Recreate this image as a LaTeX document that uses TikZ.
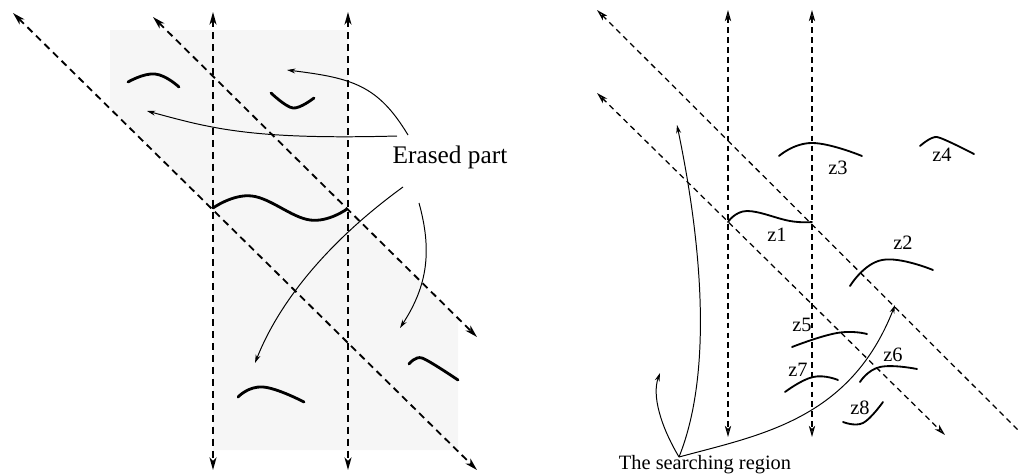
\documentclass[tikz,border=0pt]{standalone}
\usepackage{fontspec}
\setmainfont{Liberation Serif}
\usetikzlibrary{arrows.meta, positioning}

\begin{document}
\begin{tikzpicture}[
    x=0.025cm, y=-0.025cm,
    guide/.style={{Stealth[open, length=9pt, width=5pt, inset=2.5pt]}-{Stealth[open, length=9pt, width=5pt, inset=2.5pt]}, line width=1.3pt, dash pattern=on 5pt off 3.5pt},
    guidethin/.style={{Stealth[open, length=8pt, width=4.5pt, inset=2.2pt]}-{Stealth[open, length=8pt, width=4.5pt, inset=2.2pt]}, line width=0.9pt, dash pattern=on 4pt off 3pt},
    stroke/.style={line width=2pt, line cap=round},
    strokethin/.style={line width=1.3pt, line cap=round},
    pointer/.style={-{Stealth[length=6pt, width=3.5pt]}, line width=0.7pt},
    shade/.style={fill=gray!7, draw=none},
    zlabel/.style={font=\fontsize{14.5}{16}\selectfont, inner sep=1pt},
]
\useasboundingbox (0,0) rectangle (1020,475);

%% LEFT: ERASED PART
    % shaded area
    \fill[shade] (110,30) -- (348,30) -- (348,210) -- (458,319) -- (458,450)
        -- (213,450) -- (213,210) -- (110,108) -- cycle;

    % guide lines
    \coordinate (vl1t) at (213,12);  \coordinate (vl1b) at (213,470);
    \coordinate (vl2t) at (348,12);  \coordinate (vl2b) at (348,470);
    \coordinate (dla1) at (13,13);   \coordinate (dla2) at (477,470);
    \coordinate (dlb1) at (153,17);  \coordinate (dlb2) at (477,337);

    \draw[guide] (vl1t) -- (vl1b);
    \draw[guide] (vl2t) -- (vl2b);
    \draw[guide] (dla1) -- (dla2);
    \draw[guide] (dlb1) -- (dlb2);

    % strokes
    \draw[stroke] plot[smooth, tension=0.8] coordinates {(128,82) (155,74) (179,87)};
    \draw[stroke] plot[smooth, tension=0.6] coordinates {(271,93) (293,108) (314,98)};
    \draw[stroke] plot[smooth, tension=0.7] coordinates {(213,208) (252,196) (310,220) (347,209)};
    \draw[stroke] plot[smooth, tension=0.8] coordinates {(238,397) (263,387) (304,402)};
    \draw[stroke] plot[smooth, tension=0.5] coordinates {(409,364) (422,358) (458,380)};

    % label and pointers
    \node[font=\fontsize{18}{20}\selectfont, inner sep=1pt] (erased) at (450,157) {Erased part};
    \coordinate (e1) at (408,135);  \coordinate (t1) at (287,70);
    \coordinate (e2) at (397,136);  \coordinate (t2) at (147,111);
    \coordinate (e3) at (403,187);  \coordinate (t3) at (255,363);
    \coordinate (e4) at (419,203);  \coordinate (t4) at (400,328);

    \draw[pointer] (e1) .. controls (378,85) and (352,78) .. (t1);
    \draw[pointer] (e2) .. controls (250,140) and (210,128) .. (t2);
    \draw[pointer] (e3) .. controls (330,240) and (280,300) .. (t3);
    \draw[pointer] (e4) .. controls (432,250) and (428,285) .. (t4);

%% RIGHT: SEARCHING REGION
    % guide lines
    \coordinate (vr1t) at (728,10);  \coordinate (vr1b) at (728,437);
    \coordinate (vr2t) at (812,10);  \coordinate (vr2b) at (812,437);
    \coordinate (dra1) at (597,10);  \coordinate (dra2) at (1020,432);
    \coordinate (drb1) at (597,93);  \coordinate (drb2) at (945,435);

    \draw[guidethin] (vr1t) -- (vr1b);
    \draw[guidethin] (vr2t) -- (vr2b);
    \draw[guidethin, {Stealth[open, length=8pt, width=4.5pt, inset=2.2pt]}-] (dra1) -- (dra2);
    \draw[guidethin] (drb1) -- (drb2);

    % strokes
    \draw[strokethin] plot[smooth, tension=0.7] coordinates {(728,222) (747,211) (790,221) (812,222)};
    \draw[strokethin] plot[smooth, tension=0.8] coordinates {(779,156) (812,143) (862,156)};
    \draw[strokethin] plot[smooth, tension=0.4] coordinates {(920,146) (937,137) (974,154)};
    \draw[strokethin] plot[smooth, tension=0.8] coordinates {(850,286) (882,260) (933,270)};
    \draw[strokethin] plot[smooth, tension=0.8] coordinates {(792,347) (837,333) (867,334)};
    \draw[strokethin] plot[smooth, tension=0.8] coordinates {(785,392) (813,377) (838,380)};
    \draw[strokethin] plot[smooth, tension=0.8] coordinates {(860,382) (880,367) (917,369)};
    \draw[strokethin] plot[smooth, tension=0.7] coordinates {(843,422) (863,423) (883,402)};

    % labels
    \node[zlabel] (z1) at (777,235) {z1};
    \node[zlabel] (z2) at (903,243) {z2};
    \node[zlabel] (z3) at (838,168) {z3};
    \node[zlabel] (z4) at (942,155) {z4};
    \node[zlabel] (z5) at (802,325) {z5};
    \node[zlabel] (z6) at (893,355) {z6};
    \node[zlabel] (z7) at (798,370) {z7};
    \node[zlabel] (z8) at (860,408) {z8};

    % search region and pointers
    \node[font=\fontsize{14.5}{16}\selectfont, inner sep=0pt, anchor=south] (search) at (705,474) {The searching region};
    \coordinate (apex) at (679,457);
    \coordinate (s1) at (677,125);
    \coordinate (s2) at (660,373);
    \coordinate (s3) at (895,305);

    \draw[pointer] (apex) .. controls (712,375) and (703,250) .. (s1);
    \draw[pointer] (apex) .. controls (660,425) and (652,395) .. (s2);
    \draw[pointer] (apex) .. controls (760,435) and (850,420) .. (s3);

\end{tikzpicture}
\end{document}
